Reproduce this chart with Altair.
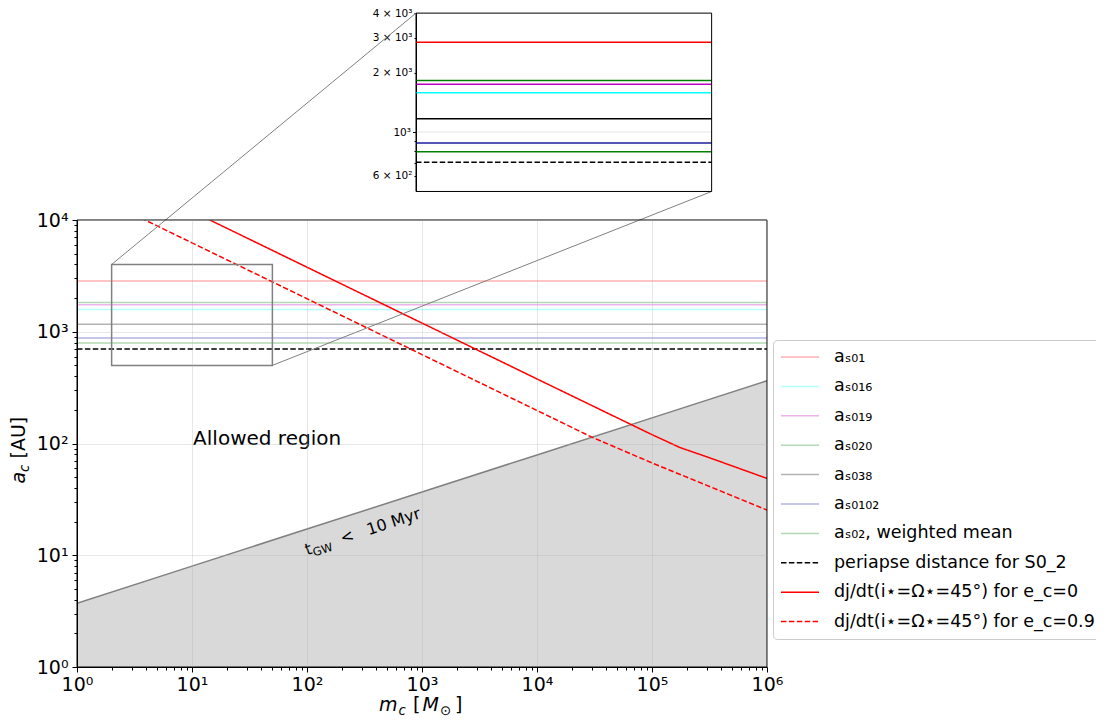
import math
import altair as alt
import pandas as pd

# ---------------- data ----------------
SERIES = [
    "aₛ₀₁", "aₛ₀₁₆", "aₛ₀₁₉", "aₛ₀₂₀", "aₛ₀₃₈", "aₛ₀₁₀₂",
    "aₛ₀₂, weighted mean", "periapse distance for S0_2",
    "dj/dt(i⋆=Ω⋆=45°) for e_c=0", "dj/dt(i⋆=Ω⋆=45°) for e_c=0.9",
]
HLINE_VALUES = [2850, 1580, 1745, 1825, 1166, 881, 794, 702]   # AU (first 8 series)
HLINE_X = [1, 1e6]

SOLID_X = [1, 10, 100, 1e3, 1e4, 1e5, 1.75e5, 3e5, 1e6]
SOLID_Y = [37800, 11960, 3780, 1196, 378, 120, 92, 76, 48.7]
DASHED_X = [1, 10, 100, 1e3, 1e4, 3e4, 1e5, 1e6]
DASHED_Y = [19750, 6245, 1975, 624.5, 197.5, 114, 67, 25.4]

GW_X = [1, 10, 100, 1e3, 1e4, 1e5, 1e6]
GW_Y = [3.72, 7.99, 17.15, 36.8, 79.0, 169.6, 364]
GW_FLOOR = 1

ZOOM_X = [2, 50]
ZOOM_Y = [500, 4000]
# where the inset frame sits, expressed on the main (log) scales
INSET_AT_X = [887, 3.3e5]
INSET_AT_Y = [1.8e4, 7.1e5]

MAIN_COLORS = ["#ffb3b3", "#b3ffff", "#ecb3ec", "#b3d9b3", "#b3b3b3", "#b4b4e0",
               "#b3d9b3", "#000000", "#ff0000", "#ff0000"]
INSET_COLORS = ["#ff0000", "#00ffff", "#bf00bf", "#008000", "#000000", "#1c1c9c",
                "#008000", "#000000"]
DASHES = [[1, 0]] * 7 + [[5.5, 2.4], [1, 0], [5.5, 2.4]]

X_MAJOR = [10 ** e for e in range(0, 7)]
X_LABELS = ["10⁰", "10¹", "10²", "10³", "10⁴", "10⁵", "10⁶"]
Y_MAJOR = [10 ** e for e in range(0, 5)]
Y_LABELS = ["10⁰", "10¹", "10²", "10³", "10⁴"]
INSET_TICKS = [600, 700, 800, 900, 1000, 2000, 3000, 4000]
INSET_LABELED = [600, 1000, 2000, 3000, 4000]
INSET_LABELS = ["6 × 10²", "10³", "2 × 10³", "3 × 10³", "4 × 10³"]

# ---------------- layout ----------------
W, H = 690, 447
FONT = "DejaVu Sans"


def log_frac(v, lo, hi):
    return (math.log10(v) - math.log10(lo)) / (math.log10(hi) - math.log10(lo))


def px_x(v):
    return W * log_frac(v, X_MAJOR[0], X_MAJOR[-1])


def px_y(v):
    return H * (1 - log_frac(v, Y_MAJOR[0], Y_MAJOR[-1]))


def minor_ticks(majors):
    vals = []
    for m in majors[:-1]:
        vals += [k * m for k in range(1, 10)]
    return vals + [majors[-1]]


def label_expr(vals, labels):
    s = "''"
    for v, l in reversed(list(zip(vals, labels))):
        s = f"datum.value == {v} ? '{l}' : {s}"
    return s


def major_test(vals):
    return "indexof([" + ",".join(str(v) for v in vals) + "], datum.value) >= 0"


def main_axis(majors, labels, pad):
    t = major_test(majors)
    return alt.Axis(
        values=minor_ticks(majors), labelExpr=label_expr(majors, labels), title=None,
        grid=True, gridColor="#b0b0b0",
        gridOpacity={"condition": {"test": t, "value": 0.3}, "value": 0},
        tickSize={"condition": {"test": t, "value": 5}, "value": 3},
        tickColor="black", tickWidth=1, domainColor="black",
        labelFont=FONT, labelFontSize=19, labelColor="black", labelPadding=pad,
        labelFlush=False, labelOverlap=False, zindex=1,
    )


XS = alt.Scale(type="log", domain=[X_MAJOR[0], X_MAJOR[-1]], nice=False)
YS = alt.Scale(type="log", domain=[Y_MAJOR[0], Y_MAJOR[-1]], nice=False)
x_enc = alt.X("x:Q", scale=XS, axis=main_axis(X_MAJOR, X_LABELS, 3))
y_enc = alt.Y("y:Q", scale=YS, axis=main_axis(Y_MAJOR, Y_LABELS, 4))

# ---------------- tables ----------------
rows = []
for s, v in zip(SERIES[:8], HLINE_VALUES):
    for xv in HLINE_X:
        rows.append({"series": s, "x": xv, "y": v})
for xv, yv in zip(SOLID_X, SOLID_Y):
    rows.append({"series": SERIES[8], "x": xv, "y": yv})
for xv, yv in zip(DASHED_X, DASHED_Y):
    rows.append({"series": SERIES[9], "x": xv, "y": yv})
main_df = pd.DataFrame(rows)

inset_rows = []
for s, v in zip(SERIES[:8], HLINE_VALUES):
    for xv in ZOOM_X:
        inset_rows.append({"series": s, "x": xv, "y": v})
inset_df = pd.DataFrame(inset_rows)

gw_df = pd.DataFrame({"x": GW_X, "y": GW_Y, "y0": [GW_FLOOR] * len(GW_X)})
zoom_df = pd.DataFrame({"x": [ZOOM_X[0]], "x2": [ZOOM_X[1]], "y": [ZOOM_Y[0]], "y2": [ZOOM_Y[1]]})
conn_df = pd.DataFrame({
    "x": [ZOOM_X[0], ZOOM_X[1]], "y": [ZOOM_Y[1], ZOOM_Y[0]],
    "x2": [INSET_AT_X[0], INSET_AT_X[1]], "y2": [INSET_AT_Y[1], INSET_AT_Y[0]],
})
ONE = pd.DataFrame({"k": [0]})

legend = alt.Legend(
    title=None, orient="none", legendX=696, legendY=120,
    symbolType="stroke", symbolSize=1444, symbolStrokeWidth=1.5, clipHeight=20,
    rowPadding=9.4, labelFont=FONT, labelFontSize=17.5, labelColor="black",
    labelLimit=400, labelOffset=14, padding=7, strokeColor="#cccccc",
    cornerRadius=4, fillColor="white",
)

# ---------------- main panel ----------------
area = alt.Chart(gw_df).mark_area(color="#d9d9d9", clip=True).encode(
    x=x_enc, y=y_enc, y2="y0:Q")
boundary = alt.Chart(gw_df).mark_line(color="#808080", strokeWidth=1.5, clip=True).encode(
    x=x_enc, y=y_enc)
lines = alt.Chart(main_df).mark_line(strokeWidth=1.5, clip=True).encode(
    x=x_enc, y=y_enc,
    color=alt.Color("series:N", scale=alt.Scale(domain=SERIES, range=MAIN_COLORS), legend=legend),
    strokeDash=alt.StrokeDash("series:N", scale=alt.Scale(domain=SERIES, range=DASHES), legend=legend),
)
zoom_box = alt.Chart(zoom_df).mark_rect(fillOpacity=0, stroke="#808080", strokeWidth=1.5).encode(
    x=x_enc, x2="x2:Q", y=y_enc, y2="y2:Q")
connectors = alt.Chart(conn_df).mark_rule(color="#808080", strokeWidth=1, clip=False).encode(
    x=x_enc, x2="x2:Q", y=y_enc, y2="y2:Q")

allowed = alt.Chart(pd.DataFrame({"x": [45], "y": [97], "t": ["Allowed region"]})).mark_text(
    align="center", baseline="alphabetic", font=FONT, fontSize=20, color="black").encode(
    x=x_enc, y=y_enc, text="t:N")


def gw_piece(txt, dx, dy, size):
    return alt.Chart(pd.DataFrame({"x": [100], "y": [10], "t": [txt]})).mark_text(
        align="left", baseline="alphabetic", angle=342, dx=dx, dy=dy,
        font=FONT, fontSize=size, color="black").encode(x=x_enc, y=y_enc, text="t:N")


def piece(txt, x, y, dx=0, dy=0, size=19, italic=False, angle=0):
    kw = dict(text=txt, align="left", baseline="alphabetic", dx=dx, dy=dy,
              fontSize=size, font=FONT, color="black", angle=angle)
    if italic:
        kw["fontStyle"] = "italic"
    return alt.Chart(ONE).mark_text(**kw).encode(x=alt.value(x), y=alt.value(y))


gw_texts = [gw_piece("t", 0, 0, 16), gw_piece("GW", 6.5, 3.5, 11.5),
            gw_piece("<", 37, 0, 16), gw_piece("10 Myr", 65, 0, 16)]

XT_X, XT_Y = W / 2 - 43, H + 44
x_title = [piece("m", XT_X, XT_Y, 0, italic=True), piece("c", XT_X, XT_Y, 19.5, 3.5, 13.3, True),
           piece("[", XT_X, XT_Y, 34), piece("M", XT_X, XT_Y, 43.5, italic=True),
           piece("⊙", XT_X, XT_Y, 61, 3.5, 13.3), piece("]", XT_X, XT_Y, 76)]
YT_X, YT_Y = -52, H / 2
y_title = [piece("a", YT_X, YT_Y, -40, 0, 19, True, 270),
           piece("c", YT_X, YT_Y, -28.4, 4, 13.3, True, 270),
           piece("[AU]", YT_X, YT_Y, -15, 0, 19, False, 270)]

frame = alt.Chart(ONE).mark_rect(fillOpacity=0, stroke="black", strokeWidth=1).encode(
    x=alt.value(0), x2=alt.value(W), y=alt.value(0), y2=alt.value(H))

main_layer = alt.layer(area, boundary, lines, zoom_box, connectors, allowed,
                       *gw_texts, *x_title, *y_title, frame)

# ---------------- inset panel ----------------
IXS = alt.Scale(type="log", domain=ZOOM_X, range=[px_x(INSET_AT_X[0]), px_x(INSET_AT_X[1])], nice=False)
IYS = alt.Scale(type="log", domain=ZOOM_Y, range=[px_y(INSET_AT_Y[0]), px_y(INSET_AT_Y[1])], nice=False)
inset_axis = alt.Axis(
    orient="left", offset=-px_x(INSET_AT_X[0]), values=INSET_TICKS,
    labelExpr=label_expr(INSET_LABELED, INSET_LABELS), title=None, grid=False,
    tickSize={"condition": {"test": "datum.value == 1000", "value": 3.5}, "value": 2},
    tickColor="black", domainColor="black", labelFont=FONT, labelFontSize=10.5,
    labelColor="black", labelPadding=2, labelFlush=False, labelOverlap=False,
)
ix_enc = alt.X("x:Q", scale=IXS, axis=None)
iy_enc = alt.Y("y:Q", scale=IYS, axis=inset_axis)

inset_grid = alt.Chart(pd.DataFrame({"x": [ZOOM_X[0]], "x2": [ZOOM_X[1]], "y": [Y_MAJOR[3]]})).mark_rule(
    color="#b0b0b0", opacity=0.3, clip=False).encode(x=ix_enc, x2="x2:Q", y=iy_enc)
inset_lines = alt.Chart(inset_df).mark_line(strokeWidth=1.5, clip=False).encode(
    x=ix_enc, y=iy_enc,
    color=alt.Color("series:N", scale=alt.Scale(domain=SERIES[:8], range=INSET_COLORS), legend=None),
    strokeDash=alt.StrokeDash("series:N", scale=alt.Scale(domain=SERIES[:8], range=DASHES[:8]), legend=None),
)
inset_frame = alt.Chart(zoom_df).mark_rect(fillOpacity=0, stroke="black", strokeWidth=1, clip=False).encode(
    x=ix_enc, x2="x2:Q", y=iy_enc, y2="y2:Q")

inset_layer = alt.layer(inset_grid, inset_lines, inset_frame)

chart = alt.layer(main_layer, inset_layer).resolve_scale(
    x="independent", y="independent", color="independent", strokeDash="independent"
).properties(
    width=W, height=H,
    padding={"left": 69, "top": 212, "right": 329, "bottom": 51},
    autosize=alt.AutoSizeParams(type="none"),
).configure_view(stroke=None)

chart.save("out.html", embed_options={"renderer": "svg", "actions": False})
